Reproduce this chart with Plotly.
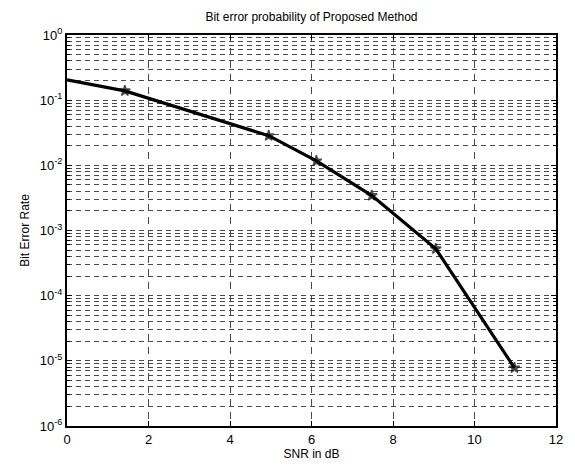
import plotly.graph_objects as go
import numpy as np

snr_db = [0, 1.42, 4.95, 6.12, 7.48, 9.05, 10.98]
ber = [0.205, 0.139, 0.0285, 0.0117, 0.00344, 0.000524, 7.8e-6]
marker_sizes = [0, 8, 8, 8, 8, 8, 8]

x_ticks = [0, 2, 4, 6, 8, 10, 12]
y_exps = [0, -1, -2, -3, -4, -5, -6]

FONT = "Liberation Sans, Arial, Helvetica, sans-serif"

fig = go.Figure()
fig.add_trace(go.Scatter(
    x=snr_db, y=ber, mode="lines+markers",
    line=dict(color="black", width=3.2),
    marker=dict(symbol="star", size=marker_sizes, color="black",
                line=dict(color="black", width=1.5)),
    cliponaxis=False, showlegend=False))

minor_vals = [m * 10.0 ** e for e in range(-6, 0) for m in range(2, 10)]

grid_col = "#4a4a4a"
fig.update_layout(
    width=575, height=471,
    margin=dict(l=67, r=16, t=35, b=39),
    paper_bgcolor="white", plot_bgcolor="white",
    font=dict(family=FONT, size=12, color="black"),
    title=dict(text="Bit error probability of Proposed Method",
               x=0.5, xref="paper", xanchor="center",
               y=1 - 17 / 471, yanchor="middle",
               font=dict(size=12)),
    xaxis=dict(
        range=[0, 12], tickvals=x_ticks, ticktext=[str(v) for v in x_ticks],
        showgrid=True, gridcolor=grid_col, gridwidth=1, griddash="7px,6px",
        zeroline=False, showline=True, linecolor="black", linewidth=2,
        mirror="ticks", ticks="inside", ticklen=5, tickcolor="black",
        tickfont=dict(size=13),
        title=dict(text="SNR in dB", font=dict(size=12), standoff=4)),
    yaxis=dict(
        type="log", range=[-6, 0],
        tickvals=[10.0 ** e for e in y_exps],
        ticktext=["10<sup>%d</sup>" % e for e in y_exps],
        showgrid=True, gridcolor=grid_col, gridwidth=1, griddash="5px,4px",
        zeroline=False, showline=True, linecolor="black", linewidth=2,
        mirror="ticks", ticks="inside", ticklen=5, tickcolor="black",
        tickfont=dict(size=13),
        minor=dict(tickvals=minor_vals, showgrid=True, gridcolor=grid_col,
                   gridwidth=1, griddash="5px,4px",
                   ticks="inside", ticklen=3, tickcolor="black"),
        title=dict(text="Bit Error Rate", font=dict(size=12), standoff=8)),
)

fig.write_html("out.html")
